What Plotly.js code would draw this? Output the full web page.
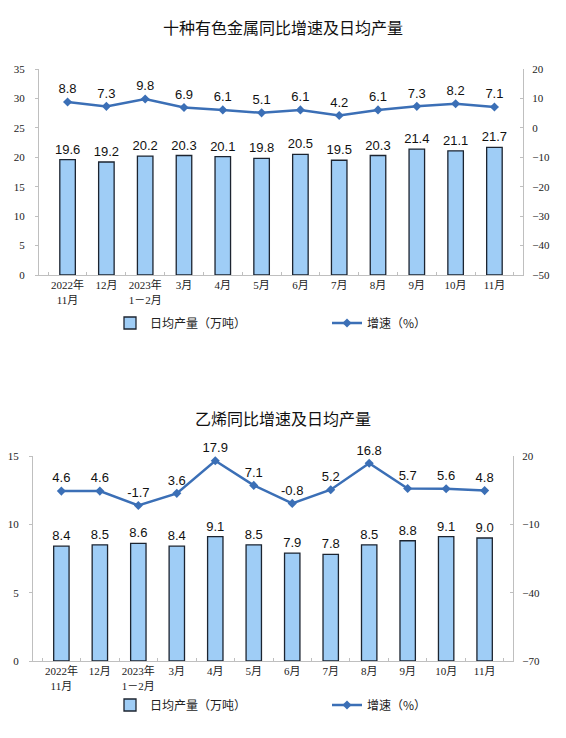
<!DOCTYPE html>
<html>
<head>
<meta charset="utf-8">
<script src="https://cdn.plot.ly/plotly-3.0.1.min.js"></script>
<style>
  html, body { margin: 0; padding: 0; background: #fff; }
  #chart { width: 566px; height: 738px; }
</style>
</head>
<body>
<div id="chart"></div>
<script>
// months shared by both charts
var months = ['2022年<br>11月', '12月', '2023年<br>1－2月', '3月', '4月', '5月',
              '6月', '7月', '8月', '9月', '10月', '11月'];

// 十种有色金属
var metalOutput = [19.6, 19.2, 20.2, 20.3, 20.1, 19.8, 20.5, 19.5, 20.3, 21.4, 21.1, 21.7];
var metalGrowth = [8.8, 7.3, 9.8, 6.9, 6.1, 5.1, 6.1, 4.2, 6.1, 7.3, 8.2, 7.1];

// 乙烯
var ethOutput = [8.4, 8.5, 8.6, 8.4, 9.1, 8.5, 7.9, 7.8, 8.5, 8.8, 9.1, 9.0];
var ethGrowth = [4.6, 4.6, -1.7, 3.6, 17.9, 7.1, -0.8, 5.2, 16.8, 5.7, 5.6, 4.8];

var barColor = '#9fcdf6';
var lineColor = '#3b6fb6';
var axisColor = '#bfbfbf';
var tickFont = {family: 'Liberation Serif, Noto Sans CJK SC, serif', size: 11, color: '#222'};
var labelFont = {family: 'Liberation Sans, Arial, sans-serif', size: 13, color: '#111'};

function barTrace(values, xa, ya, legendName) {
  return {
    type: 'bar', x: months, y: values, xaxis: xa, yaxis: ya,
    name: '日均产量（万吨）', legend: legendName,
    width: 0.4,
    marker: {color: barColor, line: {color: '#1c2430', width: 1.3}},
    text: values.map(v => v.toFixed(1)), textposition: 'outside',
    constraintext: 'none',
    textfont: labelFont, cliponaxis: false, hoverinfo: 'skip'
  };
}

function lineTrace(values, xa, ya, legendName) {
  return {
    type: 'scatter', mode: 'lines+markers+text', x: months, y: values,
    xaxis: xa, yaxis: ya, name: '增速（%）', legend: legendName,
    line: {color: lineColor, width: 2.5},
    marker: {symbol: 'diamond', size: 7, color: lineColor},
    text: values.map(v => v.toFixed(1)), textposition: 'top center',
    textfont: labelFont, cliponaxis: false, hoverinfo: 'skip'
  };
}

function yAxisLeft(range, dtick, domain) {
  return {
    domain: domain, range: range, dtick: dtick, tick0: range[0],
    showgrid: false, zeroline: false,
    showline: true, linecolor: axisColor, linewidth: 1,
    ticks: 'outside', ticklen: 3, tickcolor: axisColor,
    tickfont: tickFont, ticklabelstandoff: 8, fixedrange: true
  };
}

function yAxisRight(range, dtick, anchor, overlay) {
  return {
    overlaying: overlay, anchor: anchor, side: 'right', range: range,
    dtick: dtick, tick0: range[0],
    showgrid: false, zeroline: false,
    showline: true, linecolor: axisColor, linewidth: 1,
    ticks: 'inside', ticklen: 3, tickcolor: axisColor,
    tickfont: tickFont, ticklabelstandoff: 6, fixedrange: true
  };
}

function xAxis(domain, anchor) {
  return {
    domain: domain, anchor: anchor, type: 'category', tickangle: 0,
    showline: true, linecolor: axisColor, linewidth: 1,
    ticks: 'inside', ticklen: 3, tickcolor: axisColor, tickson: 'boundaries',
    tickfont: tickFont, showgrid: false, fixedrange: true
  };
}

var data = [
  barTrace(metalOutput, 'x', 'y', 'legend'),
  lineTrace(metalGrowth, 'x', 'y2', 'legend'),
  barTrace(ethOutput, 'x2', 'y3', 'legend2'),
  lineTrace(ethGrowth, 'x2', 'y4', 'legend2')
];

var legendCommon = {
  orientation: 'h', xanchor: 'left', yanchor: 'middle',
  font: {family: 'Noto Sans CJK SC, sans-serif', size: 12, color: '#222'},
  entrywidth: 172, itemwidth: 30, bgcolor: 'rgba(0,0,0,0)'
};

var layout = {
  width: 566, height: 738,
  margin: {l: 0, r: 0, t: 0, b: 0},
  paper_bgcolor: '#fff', plot_bgcolor: '#fff',
  showlegend: true, bargap: 0.6,
  xaxis: xAxis([39 / 566, 523 / 566], 'y'),
  yaxis: yAxisLeft([0, 35], 5, [1 - 275 / 738, 1 - 69 / 738]),
  yaxis2: yAxisRight([-50, 20], 10, 'x', 'y'),
  xaxis2: xAxis([33 / 566, 513 / 566], 'y3'),
  yaxis3: Object.assign(yAxisLeft([0, 15], 5, [1 - 661 / 738, 1 - 456 / 738]), {anchor: 'x2'}),
  yaxis4: yAxisRight([-70, 20], 30, 'x2', 'y3'),
  legend: Object.assign({x: 110 / 566, y: 1 - 323 / 738}, legendCommon),
  legend2: Object.assign({x: 110 / 566, y: 1 - 705 / 738}, legendCommon),
  annotations: [
    {text: '十种有色金属同比增速及日均产量', xref: 'paper', yref: 'paper',
     x: 0.5, y: 1 - 27 / 738, showarrow: false, xanchor: 'center', yanchor: 'middle',
     font: {family: 'Noto Sans CJK SC, sans-serif', size: 16, color: '#111'}},
    {text: '乙烯同比增速及日均产量', xref: 'paper', yref: 'paper',
     x: 0.5, y: 1 - 418 / 738, showarrow: false, xanchor: 'center', yanchor: 'middle',
     font: {family: 'Noto Sans CJK SC, sans-serif', size: 16, color: '#111'}}
  ]
};

Plotly.newPlot('chart', data, layout, {displayModeBar: false, staticPlot: true});
</script>
</body>
</html>
